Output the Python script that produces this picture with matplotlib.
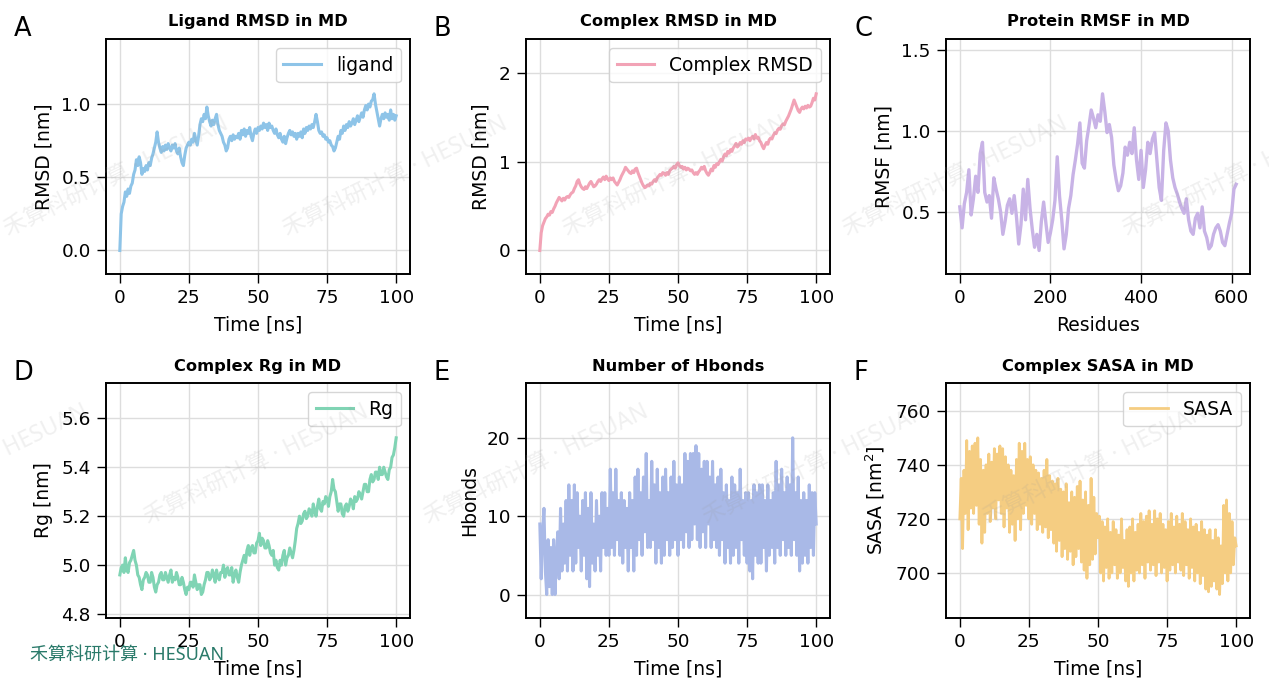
import numpy as np
import matplotlib
matplotlib.use("Agg")
import matplotlib.pyplot as plt

W, H = 1269, 692

# ---- data ----
t_half = np.linspace(0, 100, 201)   # 0.5 ns frames

ligand_rmsd = [
    0.00, 0.25, 0.30, 0.33, 0.40, 0.37, 0.42, 0.39, 0.44, 0.46,
    0.52, 0.55, 0.62, 0.58, 0.64, 0.60, 0.52, 0.56, 0.54, 0.58,
    0.55, 0.60, 0.58, 0.63, 0.66, 0.70, 0.74, 0.81, 0.74, 0.70,
    0.67, 0.71, 0.68, 0.72, 0.69, 0.73, 0.70, 0.68, 0.72, 0.70,
    0.73, 0.68, 0.66, 0.70, 0.64, 0.60, 0.58, 0.65, 0.70, 0.72,
    0.74, 0.72, 0.76, 0.74, 0.80, 0.76, 0.72, 0.78, 0.86, 0.90,
    0.88, 0.93, 0.90, 0.98, 0.92, 0.88, 0.85, 0.89, 0.86, 0.90,
    0.93, 0.86, 0.82, 0.80, 0.78, 0.74, 0.72, 0.68, 0.70, 0.76,
    0.78, 0.75, 0.79, 0.76, 0.78, 0.77, 0.80, 0.76, 0.82, 0.79,
    0.83, 0.78, 0.82, 0.80, 0.84, 0.78, 0.75, 0.80, 0.83, 0.80,
    0.84, 0.82, 0.85, 0.83, 0.87, 0.84, 0.86, 0.82, 0.87, 0.84,
    0.85, 0.82, 0.80, 0.83, 0.79, 0.77, 0.80, 0.76, 0.74, 0.78,
    0.73, 0.77, 0.80, 0.82, 0.79, 0.81, 0.78, 0.80, 0.76, 0.80,
    0.78, 0.81, 0.77, 0.83, 0.80, 0.84, 0.82, 0.85, 0.83, 0.86,
    0.84, 0.88, 0.93, 0.88, 0.82, 0.80, 0.81, 0.78, 0.79, 0.76,
    0.77, 0.74, 0.75, 0.72, 0.71, 0.68, 0.70, 0.74, 0.78, 0.76,
    0.82, 0.80, 0.85, 0.82, 0.86, 0.84, 0.88, 0.85, 0.87, 0.90,
    0.86, 0.89, 0.92, 0.88, 0.91, 0.94, 0.91, 0.96, 0.99, 0.96,
    1.00, 0.98, 1.02, 1.03, 1.07, 1.00, 0.95, 0.90, 0.85, 0.90,
    0.93, 0.90, 0.94, 0.91, 0.93, 0.89, 0.96, 0.90, 0.93, 0.89,
    0.92]

complex_rmsd = [
    0.00, 0.20, 0.28, 0.32, 0.36, 0.38, 0.41, 0.40, 0.44, 0.43,
    0.47, 0.50, 0.54, 0.57, 0.60, 0.58, 0.56, 0.59, 0.57, 0.60,
    0.61, 0.60, 0.63, 0.65, 0.66, 0.70, 0.73, 0.78, 0.80, 0.75,
    0.72, 0.70, 0.69, 0.72, 0.70, 0.73, 0.76, 0.78, 0.75, 0.72,
    0.73, 0.75, 0.78, 0.80, 0.78, 0.81, 0.83, 0.80, 0.84, 0.81,
    0.79, 0.82, 0.80, 0.82, 0.78, 0.76, 0.74, 0.77, 0.80, 0.84,
    0.87, 0.90, 0.94, 0.92, 0.90, 0.88, 0.87, 0.90, 0.88, 0.92,
    0.93, 0.88, 0.84, 0.80, 0.76, 0.73, 0.71, 0.72, 0.74, 0.73,
    0.76, 0.75, 0.78, 0.80, 0.78, 0.82, 0.84, 0.86, 0.85, 0.88,
    0.87, 0.85, 0.88, 0.86, 0.90, 0.92, 0.93, 0.95, 0.93, 0.97,
    0.99, 0.96, 0.94, 0.95, 0.92, 0.94, 0.91, 0.93, 0.92, 0.90,
    0.91, 0.88, 0.86, 0.88, 0.86, 0.89, 0.91, 0.94, 0.92, 0.95,
    0.90, 0.87, 0.85, 0.88, 0.92, 0.90, 0.96, 0.94, 0.98, 0.97,
    1.00, 1.03, 1.01, 1.06, 1.09, 1.07, 1.12, 1.10, 1.14, 1.12,
    1.16, 1.18, 1.21, 1.17, 1.19, 1.22, 1.20, 1.24, 1.22, 1.26,
    1.25, 1.27, 1.24, 1.27, 1.29, 1.26, 1.31, 1.27, 1.28, 1.24,
    1.22, 1.18, 1.15, 1.19, 1.22, 1.20, 1.25, 1.27, 1.26, 1.30,
    1.33, 1.32, 1.36, 1.38, 1.37, 1.41, 1.43, 1.42, 1.46, 1.49,
    1.52, 1.56, 1.60, 1.65, 1.70, 1.66, 1.62, 1.58, 1.56, 1.60,
    1.62, 1.60, 1.63, 1.61, 1.64, 1.62, 1.63, 1.67, 1.72, 1.70,
    1.77]

residues = np.arange(0, 611, 5)
rmsf = [
    0.53, 0.40, 0.55, 0.62, 0.76, 0.48, 0.58, 0.72, 0.62, 0.86,
    0.93, 0.62, 0.56, 0.60, 0.46, 0.71, 0.64, 0.58, 0.50, 0.36,
    0.44, 0.54, 0.58, 0.49, 0.60, 0.47, 0.30, 0.42, 0.64, 0.45,
    0.70, 0.52, 0.39, 0.28, 0.36, 0.26, 0.44, 0.56, 0.43, 0.31,
    0.37, 0.45, 0.57, 0.84, 0.60, 0.45, 0.27, 0.36, 0.52, 0.60,
    0.73, 0.82, 0.92, 1.05, 0.80, 0.77, 0.94, 1.03, 1.13, 1.08,
    1.02, 1.10, 1.06, 1.23, 1.12, 0.99, 1.04, 0.96, 0.79, 0.70,
    0.63, 0.66, 0.74, 0.90, 0.85, 0.93, 0.86, 1.02, 0.82, 0.70,
    0.88, 0.65, 0.76, 0.93, 0.86, 0.95, 0.99, 0.82, 0.65, 0.57,
    0.88, 1.05, 1.00, 0.82, 0.71, 0.65, 0.61, 0.56, 0.52, 0.49,
    0.58, 0.45, 0.38, 0.36, 0.46, 0.49, 0.40, 0.53, 0.38, 0.34,
    0.27, 0.29, 0.36, 0.40, 0.42, 0.38, 0.31, 0.29, 0.36, 0.43,
    0.49, 0.64, 0.67]

rg = [
    4.96, 4.99, 5.00, 4.97, 5.03, 4.98, 4.97, 5.01, 5.02, 5.04,
    5.06, 5.02, 5.00, 4.96, 4.95, 4.92, 4.90, 4.94, 4.95, 4.97,
    4.96, 4.93, 4.93, 4.97, 4.95, 4.91, 4.89, 4.92, 4.93, 4.96,
    4.97, 4.94, 4.94, 4.97, 4.95, 4.93, 4.96, 4.98, 4.93, 4.95,
    4.94, 4.97, 4.95, 4.92, 4.92, 4.95, 4.93, 4.90, 4.88, 4.91,
    4.90, 4.93, 4.93, 4.91, 4.96, 4.93, 4.90, 4.92, 4.92, 4.88,
    4.89, 4.92, 4.94, 4.97, 4.97, 4.94, 4.95, 4.98, 4.96, 4.93,
    4.98, 4.95, 4.94, 4.97, 4.97, 5.00, 4.95, 4.98, 4.99, 4.96,
    4.96, 4.99, 4.93, 4.96, 4.98, 4.95, 4.93, 4.97, 5.00, 5.02,
    5.04, 5.01, 5.06, 5.08, 5.04, 5.07, 5.08, 5.05, 5.05, 5.09,
    5.10, 5.13, 5.08, 5.11, 5.10, 5.07, 5.07, 5.10, 5.08, 5.05,
    5.04, 5.06, 5.00, 5.02, 4.99, 4.98, 5.02, 5.00, 5.04, 5.06,
    5.00, 5.03, 5.04, 5.07, 5.05, 5.03, 5.06, 5.10, 5.15, 5.17,
    5.20, 5.17, 5.18, 5.21, 5.22, 5.19, 5.20, 5.23, 5.22, 5.20,
    5.25, 5.22, 5.20, 5.24, 5.27, 5.23, 5.22, 5.26, 5.25, 5.28,
    5.27, 5.24, 5.28, 5.30, 5.35, 5.31, 5.30, 5.26, 5.22, 5.25,
    5.25, 5.21, 5.20, 5.24, 5.25, 5.22, 5.24, 5.27, 5.26, 5.23,
    5.28, 5.26, 5.27, 5.30, 5.29, 5.27, 5.30, 5.33, 5.33, 5.30,
    5.30, 5.35, 5.37, 5.34, 5.35, 5.38, 5.38, 5.35, 5.40, 5.37,
    5.37, 5.40, 5.38, 5.36, 5.35, 5.39, 5.40, 5.44, 5.45, 5.48,
    5.52]

hbonds = [
    9, 2, 8, 11, 3, 0, 7, 1, 6, 0,
    7, 0, 5, 8, 2, 11, 3, 9, 4, 12,
    3, 14, 5, 12, 3, 14, 4, 13, 6, 10,
    3, 12, 5, 13, 2, 11, 1, 13, 4, 9,
    3, 12, 5, 10, 3, 13, 6, 13, 5, 11,
    5, 16, 6, 13, 5, 16, 7, 12, 5, 13,
    4, 12, 6, 11, 3, 13, 6, 12, 3, 15,
    5, 16, 7, 13, 5, 15, 8, 18, 6, 12,
    6, 17, 7, 14, 4, 16, 6, 13, 4, 15,
    5, 16, 7, 13, 5, 15, 6, 17, 7, 14,
    5, 15, 7, 14, 6, 18, 8, 17, 6, 18,
    7, 18, 9, 19, 7, 18, 6, 16, 8, 17,
    6, 17, 9, 15, 6, 17, 7, 14, 6, 15,
    5, 16, 7, 13, 4, 14, 6, 12, 4, 15,
    5, 14, 6, 13, 4, 16, 7, 12, 5, 13,
    4, 13, 3, 12, 2, 14, 5, 13, 4, 14,
    4, 14, 6, 12, 3, 14, 5, 12, 6, 13,
    4, 17, 6, 14, 5, 16, 7, 13, 5, 15,
    6, 14, 5, 20, 7, 13, 5, 15, 3, 12,
    4, 13, 5, 12, 4, 14, 6, 13, 5, 13,
    9]

sasa = [
    720, 735, 709, 738, 722, 749, 716, 745, 724, 747,
    722, 748, 725, 750, 718, 742, 711, 738, 715, 740,
    722, 744, 719, 741, 724, 746, 720, 744, 727, 747,
    722, 746, 717, 743, 724, 740, 715, 738, 718, 736,
    712, 742, 720, 748, 716, 745, 722, 748, 725, 742,
    720, 743, 718, 740, 722, 738, 716, 737, 718, 735,
    715, 738, 717, 742, 713, 736, 716, 734, 711, 733,
    708, 735, 712, 731, 706, 730, 709, 733, 705, 726,
    708, 730, 703, 728, 706, 732, 709, 734, 704, 727,
    701, 730, 698, 725, 703, 735, 705, 728, 707, 722,
    713, 721, 700, 719, 697, 717, 702, 720, 698, 715,
    700, 719, 703, 716, 698, 714, 700, 720, 702, 712,
    697, 716, 695, 717, 700, 720, 697, 715, 701, 718,
    700, 722, 703, 719, 698, 721, 704, 723, 701, 718,
    703, 723, 699, 720, 704, 722, 700, 718, 702, 716,
    697, 719, 701, 722, 703, 717, 700, 721, 704, 718,
    701, 722, 699, 719, 703, 716, 698, 720, 702, 717,
    697, 718, 700, 715, 696, 719, 699, 716, 694, 714,
    693, 716, 695, 712, 697, 716, 694, 713, 692, 710,
    696, 725, 700, 727, 697, 722, 700, 719, 703, 713,
    710]

# ---- figure ----
fig = plt.figure(figsize=(W / 100, H / 100), dpi=100)

lefts = [106, 526, 946]
tops = [39, 383]
aw, ah = 304, 235


def make_ax(col, row):
    l = lefts[col] / W
    b = 1 - (tops[row] + ah) / H
    return fig.add_axes([l, b, aw / W, ah / H])


def style(ax, letter, title, xlabel, ylabel, col, row):
    ax.set_title(title, fontsize=11.7, fontweight="bold", pad=9)
    ax.set_xlabel(xlabel, fontsize=13.5, labelpad=6)
    ax.set_ylabel(ylabel, fontsize=13.5, labelpad=6)
    ax.grid(True, color="#dddddd", linewidth=1)
    ax.set_axisbelow(True)
    ax.tick_params(labelsize=13.3, length=6.5, width=1, pad=4.5)
    for s in ax.spines.values():
        s.set_linewidth(1.4)
    fig.text((lefts[col] - 92) / W, 1 - (tops[row] - 3) / H, letter,
             fontsize=18.5, va="baseline", ha="left")


def ylim_auto(ax, vals):
    lo, hi = min(vals), max(vals)
    r = hi - lo
    ax.set_ylim(lo - 0.15 * r, hi + 0.35 * r)


# A
ax = make_ax(0, 0)
ax.plot(t_half, ligand_rmsd, color="#8ec4e8", lw=2.2, label="ligand")
ylim_auto(ax, ligand_rmsd)
ax.set_xticks([0, 25, 50, 75, 100])
ax.set_yticks([0.0, 0.5, 1.0])
style(ax, "A", "Ligand RMSD in MD", "Time [ns]", "RMSD [nm]", 0, 0)
ax.legend(loc="upper right", fontsize=13.5)

# B
ax = make_ax(1, 0)
ax.plot(t_half, complex_rmsd, color="#f2a3b6", lw=2.2, label="Complex RMSD")
ylim_auto(ax, complex_rmsd)
ax.set_xticks([0, 25, 50, 75, 100])
ax.set_yticks([0, 1, 2])
style(ax, "B", "Complex RMSD in MD", "Time [ns]", "RMSD [nm]", 1, 0)
ax.legend(loc="upper right", fontsize=13.5)

# C
ax = make_ax(2, 0)
ax.plot(residues, rmsf, color="#c8b3e6", lw=2.4)
ylim_auto(ax, rmsf)
ax.set_xticks([0, 200, 400, 600])
ax.set_yticks([0.5, 1.0, 1.5])
style(ax, "C", "Protein RMSF in MD", "Residues", "RMSF [nm]", 2, 0)

# D
ax = make_ax(0, 1)
ax.plot(t_half, rg, color="#80d4b4", lw=2.2, label="Rg")
ylim_auto(ax, rg)
ax.set_xticks([0, 25, 50, 75, 100])
ax.set_yticks([4.8, 5.0, 5.2, 5.4, 5.6])
style(ax, "D", "Complex Rg in MD", "Time [ns]", "Rg [nm]", 0, 1)
ax.legend(loc="upper right", fontsize=13.5)

# E
ax = make_ax(1, 1)
ax.plot(t_half, hbonds, color="#a9b9e7", lw=2.2)
ylim_auto(ax, hbonds)
ax.set_xticks([0, 25, 50, 75, 100])
ax.set_yticks([0, 10, 20])
style(ax, "E", "Number of Hbonds", "Time [ns]", "Hbonds", 1, 1)

# F
ax = make_ax(2, 1)
ax.plot(t_half, sasa, color="#f5cd82", lw=2.0, label="SASA")
ylim_auto(ax, sasa)
ax.set_xticks([0, 25, 50, 75, 100])
ax.set_yticks([700, 720, 740, 760])
style(ax, "F", "Complex SASA in MD", "Time [ns]", "SASA [nm$^2$]", 2, 1)
ax.legend(loc="upper right", fontsize=13.5)

# watermark tiles
wm_font = ["Noto Sans", "Noto Sans CJK SC", "DejaVu Sans"]
wm = "禾算科研计算 · HESUAN"
wm_row1 = [8, 287, 567, 847, 1127]
wm_row2 = [-132, 148, 428, 707, 987]
for xs, yb in [(wm_row1, 236), (wm_row2, 524)]:
    for x0 in xs:
        fig.text(x0 / W, 1 - yb / H, wm, family=wm_font, fontsize=16.5,
                 color="#999999", alpha=0.15, rotation=26,
                 rotation_mode="anchor", ha="left", va="baseline", zorder=10)

fig.text(30 / W, 1 - 660 / H, wm, family=wm_font, fontsize=13,
         color="#2a7a6a", ha="left", va="baseline", zorder=11)

fig.savefig("out.png", dpi=100)
